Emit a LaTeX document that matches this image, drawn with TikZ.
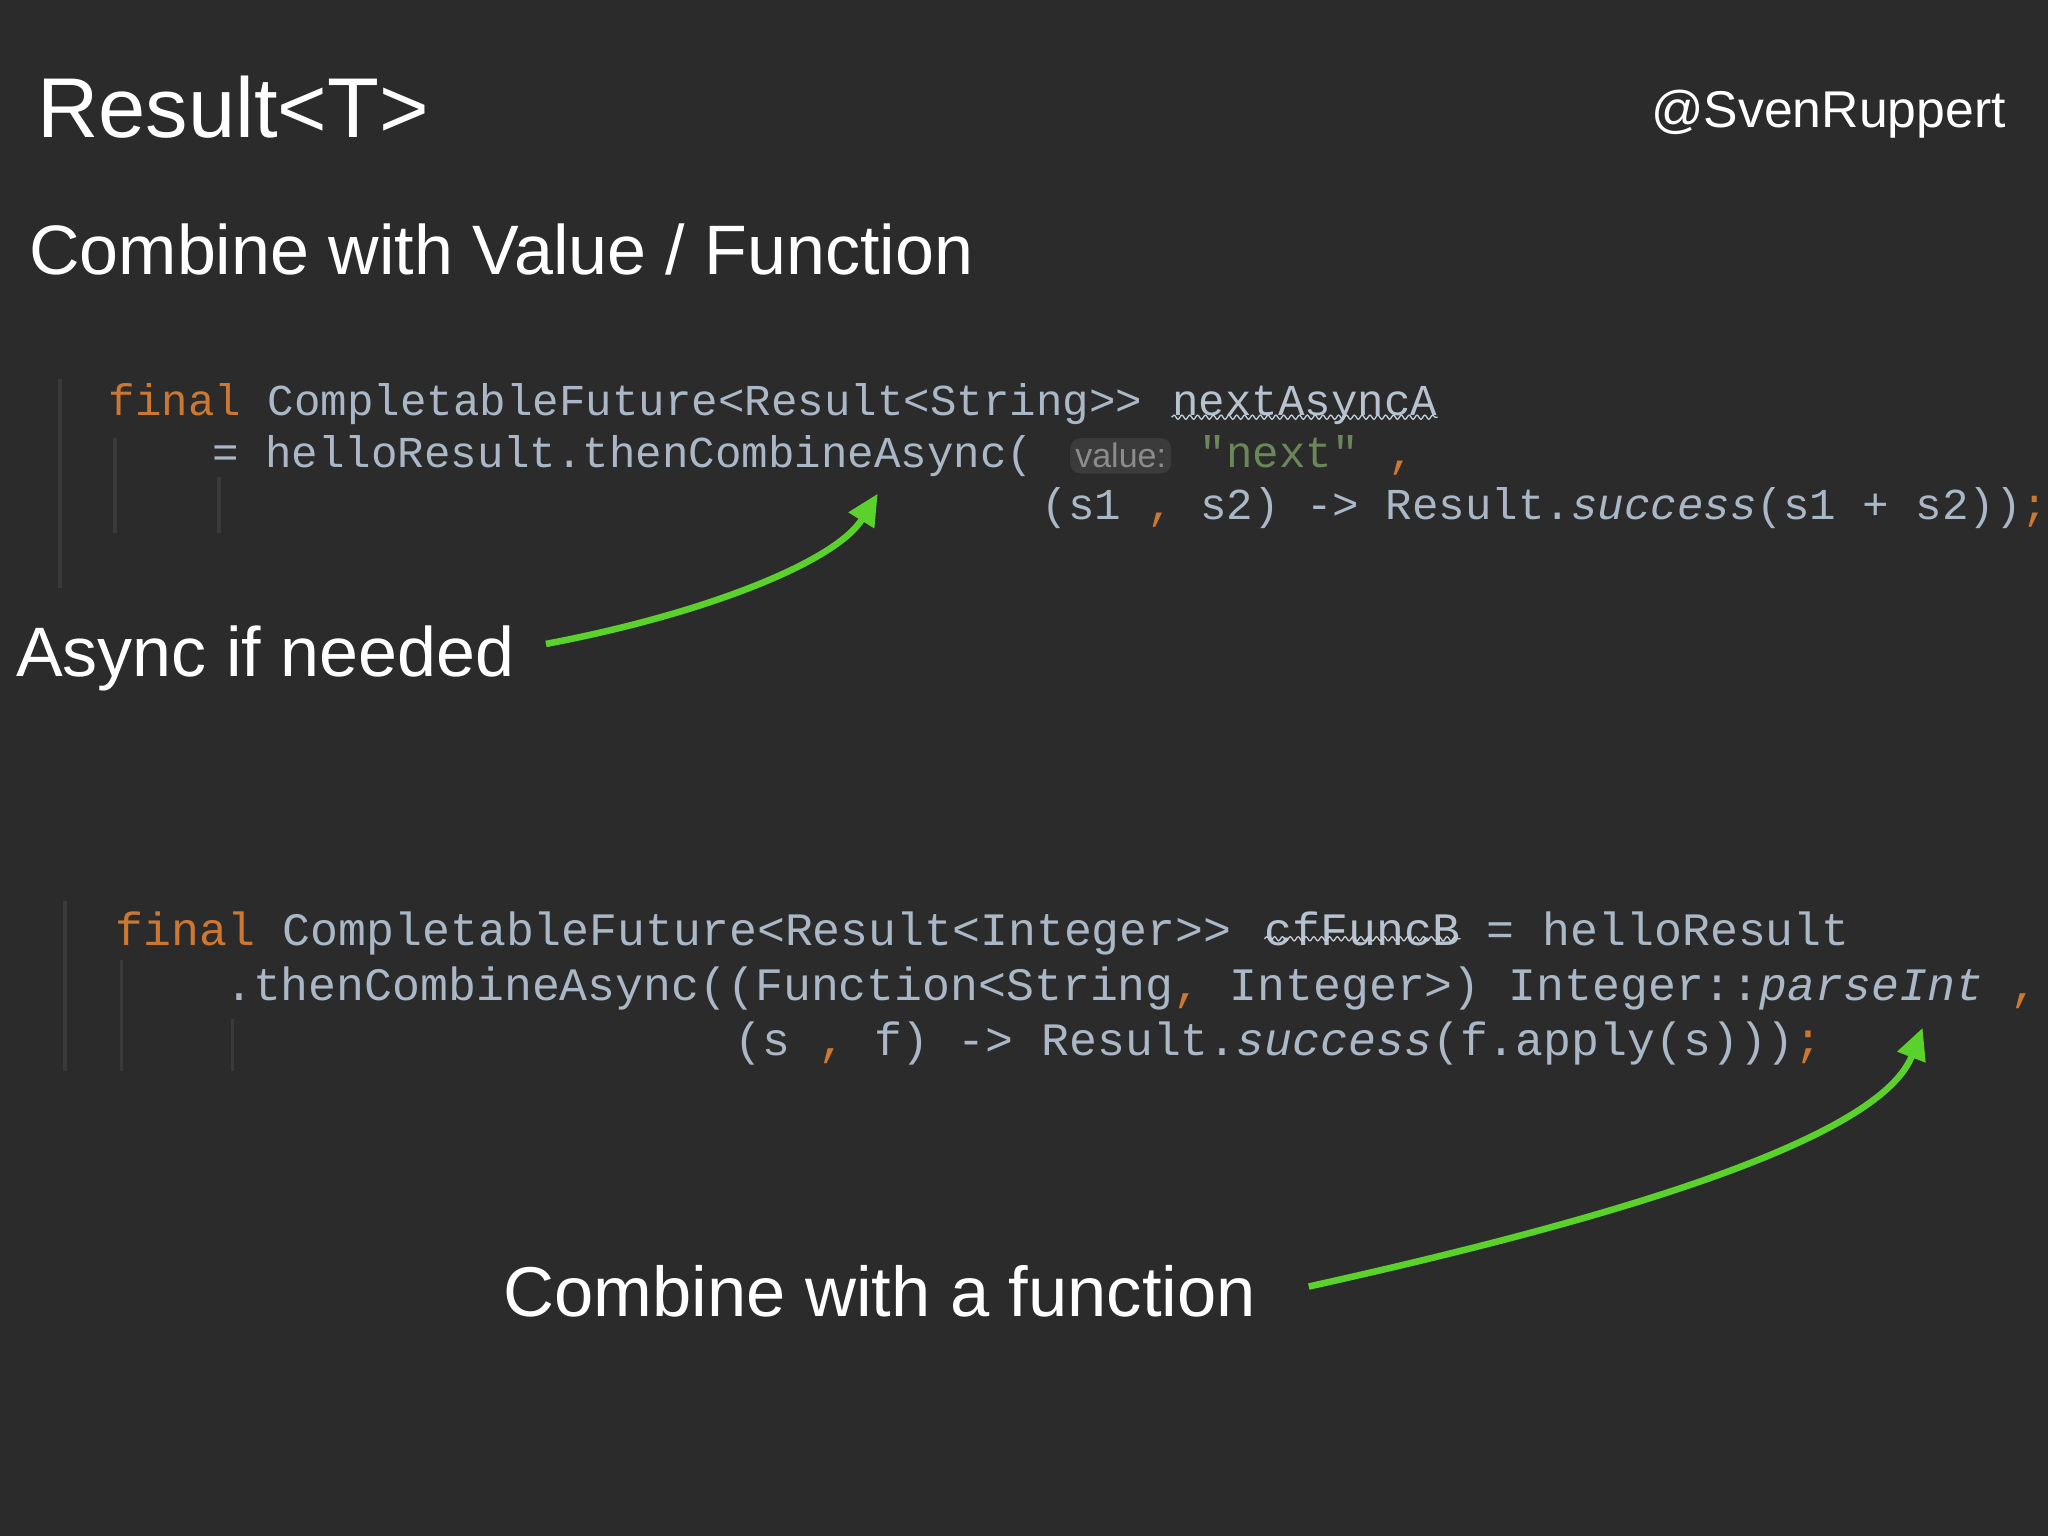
\documentclass[tikz,border=0pt]{standalone}
\usepackage{fontspec}
\setmainfont{Liberation Sans}
\setmonofont{Liberation Mono}
\usetikzlibrary{arrows.meta,decorations.pathmorphing}
\definecolor{bg}{HTML}{2B2B2B}
\definecolor{codefg}{HTML}{A9B7C6}
\definecolor{kw}{HTML}{CC7832}
\definecolor{str}{HTML}{6A8759}
\definecolor{guide}{HTML}{3A3A3A}
\definecolor{hintbg}{HTML}{3B3B3B}
\definecolor{hintfg}{HTML}{8C8C8C}
\definecolor{arr}{HTML}{5BD22B}
\tikzset{
 title/.style={anchor=base west,inner sep=0,text=white,font=\fontsize{#1}{#1}\selectfont},
 codeA/.style={anchor=base west,inner sep=0,text=codefg,font=\ttfamily\fontsize{16.9}{20}\selectfont},
 codeB/.style={anchor=base west,inner sep=0,text=codefg,font=\ttfamily\fontsize{17.8}{20}\selectfont},
 guideline/.style={guide,line width=1.5pt},
 greenarrow/.style={arr,line width=2.5pt,-{Triangle[length=12pt,width=11pt]}},
 squig/.style={codefg!70,line width=0.5pt,decorate,decoration={snake,amplitude=0.8pt,segment length=3pt}}
}
\newcommand{\kwc}[1]{\textcolor{kw}{#1}}
\begin{document}
\begin{tikzpicture}[x=0.5pt,y=-0.5pt]
\fill[bg] (0,0) rectangle (1568,1176);
\useasboundingbox (0,0) rectangle (1568,1176);
\node[title=32.5] (t) at (28,105) {Result<T>};
\node[title=19.8,anchor=base east] (auth) at (1536,98) {@SvenRuppert};
\node[title=26.8] (sub) at (22,210) {Combine with Value / Function};
% guides block 1
\draw[guideline] (46,290) -- (46,450);
\draw[guideline] (88,335) -- (88,408);
\draw[guideline] (168,365) -- (168,408);
% block 1
\node[codeA] (a1) at (83,318) {\kwc{final} CompletableFuture<Result<String>>};
\node[codeA,text=codefg!85] (a1n) at (897,318) {nextAsyncA};
\draw[squig] ([yshift=3pt]a1n.south west) -- ([yshift=3pt]a1n.south east);
\node[codeA] (a2) at (162,358) {= helloResult.thenCombineAsync(};
\node[fill=hintbg,rounded corners=4pt,text=hintfg,inner sep=2pt,font=\fontsize{13}{14}\selectfont,minimum height=13pt] (hint) at (858,349) {value:};
\node[codeA,text=str] (a2s) at (918,358) {"next"};
\node[codeA] (a2c) at (1063,358) {\kwc{,}};
\node[codeA] (a3) at (797,398) {(s1 \kwc{,} s2) -> Result.\textit{success}(s1 + s2))\kwc{;}};
% guides block 2
\draw[guideline] (50,690) -- (50,820);
\draw[guideline] (93,735) -- (93,820);
\draw[guideline] (178,780) -- (178,820);
% block 2
\node[codeB] (b1) at (88,724) {\kwc{final} CompletableFuture<Result<Integer>>};
\node[codeB,text=codefg!85] (b1n) at (968,724) {cfFuncB};
\draw[squig] ([yshift=3pt]b1n.south west) -- ([yshift=3pt]b1n.south east);
\node[codeB] (b1r) at (1138,724) {= helloResult};
\node[codeB] (b2) at (172,766) {.thenCombineAsync((Function<String\kwc{,} Integer>) Integer::\textit{parseInt} \kwc{,}};
\node[codeB] (b3) at (562,808) {(s \kwc{,} f) -> Result.\textit{success}(f.apply(s)))\kwc{;}};
% labels
\node[title=26.8] (async) at (12,518) {Async if needed};
\node[title=27] (comb) at (385,1008) {Combine with a function};
\coordinate (a1start) at (418,493);
\coordinate (a2start) at (1002,985);
\coordinate (a1tip) at (672,378);
\coordinate (a2tip) at (1472,787);
\draw[greenarrow] (a1start) .. controls (540,470) and (640,430) .. (a1tip);
\draw[greenarrow] (a2start) .. controls (1250,930) and (1440,870) .. (a2tip);
\end{tikzpicture}
\end{document}
